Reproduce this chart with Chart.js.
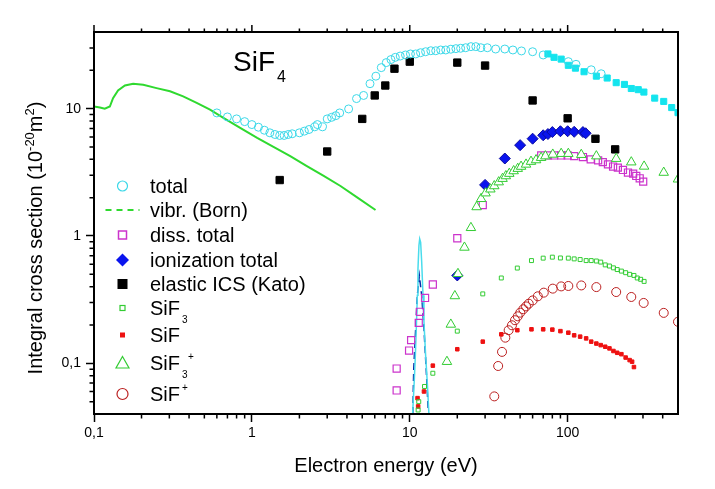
<!DOCTYPE html>
<html>
<head>
<meta charset="utf-8">
<script src="https://cdn.jsdelivr.net/npm/chart.js@4/dist/chart.umd.min.js"></script>
<style>
html,body{margin:0;padding:0;background:#fff;}
#wrap{width:715px;height:489px;position:relative;}
</style>
</head>
<body>
<div id="wrap"><canvas id="c" width="715" height="489"></canvas></div>
<script>
// ---------- tick labels ----------
const xTickValues = [0.1, 1, 10, 100];
const xTickLabels = ['0,1', '1', '10', '100'];
const yTickValues = [0.1, 1, 10];
const yTickLabels = ['0,1', '1', '10'];

// ---------- data (energy in eV, cross section in 1e-20 m^2) ----------
const totalE = [0.6,0.7,0.8,0.9,1.0,1.1,1.2,1.3,1.4,1.5,1.6,1.7,1.8,2.0,2.15,2.3,2.5,2.6,2.8,3.0,3.2,3.4,3.6,4.1,4.6,5.1,5.6,6.1,6.6,7.1,7.6,8.1,8.7,9.4,10.1,10.9,11.7,12.6,13.6,14.6,15.7,16.9,18.2,19.6,21,22.6,24.4,26.2,28.2,31,35,40,45,51,60,70,101,113,141,163];
const totalQ = [9.26,8.61,8.31,7.91,7.50,7.15,6.77,6.46,6.27,6.16,6.16,6.27,6.35,6.46,6.66,6.86,7.20,7.50,7.20,8.31,8.55,8.81,9.26,9.95,12.0,12.7,15.7,18.0,21.0,23.0,24.3,25.3,25.9,26.4,26.9,26.9,27.5,28.0,28.5,28.5,28.9,28.9,29.3,29.6,29.8,30.1,30.7,30.7,30.1,30.1,29.4,29.4,28.9,28.4,28.0,26.4,23.4,22.3,20.2,18.8];

const totalHighE = [75,82,91,101,112,127,152,178,203,229,253,280,304,356,406,456,500];
const totalHighQ = [26.9,25.3,24.5,21.9,20.8,19.5,18.0,17.4,16.0,15.5,14.4,14.1,13.5,12.1,11.4,10.2,9.3];

const vibrE = [0.1,0.109,0.117,0.126,0.132,0.142,0.157,0.177,0.205,0.249,0.303,0.367,0.447,0.543,0.660,0.843,1.08,1.37,1.75,2.23,2.85,3.64,4.64,6.07];
const vibrQ = [10.4,10.2,10.0,10.4,12.1,13.9,15.2,15.7,15.4,14.5,13.7,12.5,11.1,9.82,8.46,7.07,5.90,5.02,4.24,3.54,2.96,2.47,2.01,1.60];

const dissE = [8.26,8.26,9.9,10.2,11.4,11.6,12.5,14,20,29,68,75,82,91,100,110,125,140,156,167,180,194,208,224,241,260,272,286,301];
const dissQ = [0.0612,0.091,0.126,0.152,0.208,0.254,0.326,0.416,0.96,1.75,4.29,4.29,4.29,4.29,4.29,4.24,4.17,4.00,3.93,3.80,3.65,3.51,3.44,3.30,3.15,3.09,2.96,2.84,2.67];

const ionE = [20,30,40,50,60,70,75,80,90,100,110,125,130];
const ionQ = [0.49,2.52,4.06,5.17,5.81,6.18,6.32,6.55,6.65,6.65,6.58,6.55,6.41];

const elasticE = [1.5,3,5,6,7,8,10,20,30,60,100,150,200];
const elasticQ = [2.75,4.61,8.31,12.7,15.2,20.6,23.4,23.0,21.8,11.6,8.40,5.80,4.79];

const sif3E = [11.3,11.4,12.4,14,20,29,38,48,59,70,80,90,101,110,120,131,141,152,162,173,184,195,206,219,233,247,263,276,290,305];
const sif3Q = [0.043,0.050,0.0658,0.0836,0.179,0.351,0.468,0.560,0.641,0.670,0.682,0.672,0.670,0.661,0.653,0.641,0.641,0.636,0.624,0.593,0.581,0.562,0.545,0.530,0.515,0.500,0.490,0.468,0.457,0.440];

const sifE = [11.2,11.3,12.3,14,20,29,38,48,59,70,80,90,101,110,120,131,141,152,162,173,184,195,206,219,233,247,256,263];
const sifQ = [0.0533,0.0459,0.0601,0.0959,0.129,0.148,0.169,0.182,0.185,0.185,0.184,0.179,0.174,0.166,0.162,0.157,0.148,0.143,0.139,0.135,0.131,0.125,0.121,0.118,0.111,0.106,0.103,0.0935];

const sif3pE = [17.2,18.2,19.3,20.2,22.2,24.4,26.5,28.3,30.2,32.4,34.3,36.6,38.7,40.6,42.7,45.5,48.3,50.7,54.5,58.6,63.1,67.9,72.3,80.5,91,101,122,152,203,253,305,406,500];
const sif3pQ = [0.103,0.202,0.338,0.505,0.813,1.16,1.69,1.96,2.17,2.33,2.47,2.65,2.82,2.96,3.09,3.24,3.38,3.51,3.65,3.84,3.95,4.12,4.24,4.37,4.43,4.43,4.35,4.24,4.05,3.80,3.52,3.15,2.79];

const sifpE = [34.3,36.3,38.4,40.3,42.3,44.4,46.4,48.3,50.1,52.4,54.5,56.7,60.1,64.7,70.6,80.5,91,101,122,152,203,253,303,406,500];
const sifpQ = [0.055,0.0953,0.123,0.159,0.182,0.199,0.218,0.234,0.250,0.266,0.280,0.294,0.312,0.336,0.359,0.386,0.402,0.405,0.409,0.397,0.363,0.332,0.298,0.249,0.212];

const peakCyanE = [10.4,10.7,10.85,11.0,11.17,11.27,11.43,11.56,11.72,11.9,12.13,12.3,12.6,12.94,13.25];
const peakCyanQ = [0.038,0.0764,0.116,0.1875,0.342,0.552,0.84,0.948,0.893,0.624,0.342,0.212,0.116,0.0676,0.038];

const peakBlueE = [10.45,10.6,10.9,11.17,11.5,11.9,12.3,12.7,13.1];
const peakBlueQ = [0.04,0.0914,0.1875,0.342,0.487,0.342,0.1875,0.0914,0.042];

const legendLabels = [
  {main: 'total'},
  {main: 'vibr. (Born)'},
  {main: 'diss. total'},
  {main: 'ionization total'},
  {main: 'elastic ICS (Kato)'},
  {main: 'SiF', sub: '3'},
  {main: 'SiF'},
  {main: 'SiF', sub: '3', sup: '+'},
  {main: 'SiF', sup: '+'}
];
const yTitleParts = [
  {t: 'Integral cross section (10'}, {t: '-20', sup: true}, {t: 'm'}, {t: '2', sup: true}, {t: ')'}
];

// ---------- helpers ----------
const FONT = "'Liberation Sans', Arial, Helvetica, sans-serif";
Chart.defaults.font.family = FONT;
const pts = (xs, ys) => xs.map((v, i) => ({x: v, y: ys[i]}));

const C = {
  cyan: '#3cd8e8', cyanFill: '#14e4ee', cyanLine: '#4adcec', navy: '#0a2aa8',
  green: '#2fd92f', magenta: '#cc33cc', blue: '#0a14ee', black: '#000000',
  sifGreen: '#33cc33', red: '#ee1111', darkRed: '#bb2020'
};

function scatterDs(label, xs, ys, style, radius, border, fill, bw, order) {
  return {
    label, data: pts(xs, ys), pointStyle: style, pointRadius: radius,
    pointBorderColor: border, pointBackgroundColor: fill, pointBorderWidth: bw,
    borderColor: border, backgroundColor: fill, showLine: false, clip: 0, order: order || 0
  };
}
function lineDs(label, xs, ys, color, width, dash) {
  return {
    label, data: pts(xs, ys), showLine: true, pointRadius: 0, borderColor: color,
    borderWidth: width, borderDash: dash || [], fill: false, tension: 0, clip: 0
  };
}

const datasets = [
  scatterDs('total', totalE, totalQ, 'circle', 4, C.cyan, 'rgba(0,0,0,0)', 1),
  scatterDs('total (high E)', totalHighE, totalHighQ, 'rect', 4.3, C.cyanFill, C.cyanFill, 1),
  lineDs('vibr. (Born)', vibrE, vibrQ, C.green, 2),
  scatterDs('diss. total', dissE, dissQ, 'rect', 5, C.magenta, 'rgba(0,0,0,0)', 1.2),
  scatterDs('ionization total', ionE, ionQ, 'rectRot', 5.5, '#0a0aa0', C.blue, 1, 10),
  scatterDs('elastic ICS (Kato)', elasticE, elasticQ, 'rect', 5.2, C.black, C.black, 1),
  scatterDs('SiF3', sif3E, sif3Q, 'rect', 2.8, C.sifGreen, 'rgba(0,0,0,0)', 1),
  scatterDs('SiF', sifE, sifQ, 'rect', 2.5, C.red, C.red, 1),
  scatterDs('SiF3+', sif3pE, sif3pQ, 'triangle', 5.5, C.sifGreen, '#ffffff', 1, -1),
  scatterDs('SiF+', sifpE, sifpQ, 'circle', 4.5, C.darkRed, 'rgba(0,0,0,0)', 1),
  lineDs('peak (cyan)', peakCyanE, peakCyanQ, C.cyanLine, 1.5),
  lineDs('peak (blue)', peakBlueE, peakBlueQ, C.navy, 1.5, [7, 4])
];

// ---------- decoration plugin: frame, minor ticks, titles, legend ----------
function drawMarker(ctx, kind, x, y) {
  ctx.save();
  ctx.setLineDash([]);
  switch (kind) {
    case 0: ctx.strokeStyle = C.cyan; ctx.lineWidth = 1.2; ctx.beginPath(); ctx.arc(x, y, 5, 0, Math.PI*2); ctx.stroke(); break;
    case 1: ctx.strokeStyle = C.green; ctx.lineWidth = 2.2; ctx.setLineDash([6, 5]); ctx.beginPath(); ctx.moveTo(x-17, y); ctx.lineTo(x+17, y); ctx.stroke(); break;
    case 2: ctx.strokeStyle = C.magenta; ctx.lineWidth = 1.5; ctx.strokeRect(x-4, y-4, 8, 8); break;
    case 3: ctx.fillStyle = C.blue; ctx.beginPath(); ctx.moveTo(x-6.5, y); ctx.lineTo(x, y-6.5); ctx.lineTo(x+6.5, y); ctx.lineTo(x, y+6.5); ctx.closePath(); ctx.fill(); break;
    case 4: ctx.fillStyle = C.black; ctx.fillRect(x-5, y-5, 10, 10); break;
    case 5: ctx.strokeStyle = C.sifGreen; ctx.lineWidth = 1.2; ctx.strokeRect(x-2.5, y-2.5, 5, 5); break;
    case 6: ctx.fillStyle = C.red; ctx.fillRect(x-2.5, y-2.5, 5, 5); break;
    case 7: ctx.strokeStyle = C.sifGreen; ctx.lineWidth = 1.2; ctx.beginPath(); ctx.moveTo(x, y-6.5); ctx.lineTo(x+6.5, y+5); ctx.lineTo(x-6.5, y+5); ctx.closePath(); ctx.stroke(); break;
    case 8: ctx.strokeStyle = C.darkRed; ctx.lineWidth = 1.2; ctx.beginPath(); ctx.arc(x, y, 5.5, 0, Math.PI*2); ctx.stroke(); break;
  }
  ctx.restore();
}

const decoPlugin = {
  id: 'deco',
  afterDraw(chart) {
    const {ctx, chartArea: a} = chart;
    const xs = chart.scales.x, ys = chart.scales.y;
    ctx.save();
    // minor ticks + top major ticks
    ctx.strokeStyle = '#000';
    ctx.lineWidth = 1.5;
    ctx.beginPath();
    for (let d = 0.1; d < 1000; d *= 10) {
      for (let k = 2; k <= 9; k++) {
        const v = k * d;
        if (v >= xs.max * 0.999) continue;
        const p = xs.getPixelForValue(v);
        ctx.moveTo(p, a.bottom); ctx.lineTo(p, a.bottom + 4.5);
        ctx.moveTo(p, a.top); ctx.lineTo(p, a.top - 3.5);
      }
    }
    xTickValues.forEach(v => {
      const p = xs.getPixelForValue(v);
      ctx.moveTo(p, a.top); ctx.lineTo(p, a.top - 7);
    });
    for (let d = 0.01; d < 100; d *= 10) {
      for (let k = 2; k <= 9; k++) {
        const v = k * d;
        if (v <= ys.min * 1.001 || v >= ys.max * 0.999) continue;
        const p = ys.getPixelForValue(v);
        ctx.moveTo(a.left, p); ctx.lineTo(a.left - 4.5, p);
      }
    }
    ctx.stroke();
    // frame
    ctx.lineWidth = 2;
    ctx.strokeRect(a.left, a.top, a.right - a.left, a.bottom - a.top);

    ctx.fillStyle = '#000';
    ctx.textBaseline = 'alphabetic';
    ctx.textAlign = 'left';

    // y-axis title with superscripts (rotated)
    ctx.save();
    ctx.translate(42, 238);
    ctx.rotate(-Math.PI / 2);
    const big = '20px ' + FONT, small = '13px ' + FONT;
    let total = 0;
    yTitleParts.forEach(p => { ctx.font = p.sup ? small : big; total += ctx.measureText(p.t).width; });
    let cx = -total / 2;
    yTitleParts.forEach(p => {
      ctx.font = p.sup ? small : big;
      ctx.fillText(p.t, cx, p.sup ? -8 : 0);
      cx += ctx.measureText(p.t).width;
    });
    ctx.restore();

    // title SiF4
    ctx.font = '28px ' + FONT;
    ctx.fillText('SiF', 233, 70.5);
    const tw = ctx.measureText('SiF').width;
    ctx.font = '16px ' + FONT;
    ctx.fillText('4', 233 + tw + 2, 82);

    // legend
    const rowY = [186, 210, 235, 260, 284, 308, 335, 363, 394];
    const mx = 122.5, tx = 150;
    legendLabels.forEach((lab, i) => {
      const y = rowY[i];
      drawMarker(ctx, i, mx, y);
      ctx.fillStyle = '#000';
      ctx.font = '20px ' + FONT;
      ctx.fillText(lab.main, tx, y + 7);
      let lx = tx + ctx.measureText(lab.main).width + 2;
      ctx.font = '10px ' + FONT;
      if (lab.sub) {
        ctx.fillText(lab.sub, lx, y + 14.5);
        lx += ctx.measureText(lab.sub).width + 0.5;
      }
      if (lab.sup) {
        ctx.fillText(lab.sup, lx, y - 3);
      }
    });
    ctx.restore();
  }
};

new Chart(document.getElementById('c'), {
  type: 'scatter',
  data: {datasets},
  options: {
    responsive: false,
    animation: false,
    devicePixelRatio: 1,
    layout: {padding: {top: 32, right: 37, left: 0, bottom: 0}},
    plugins: {legend: {display: false}, tooltip: {enabled: false}},
    scales: {
      x: {
        type: 'logarithmic', min: 0.1, max: 500, position: 'bottom',
        afterBuildTicks: s => { s.ticks = xTickValues.map(v => ({value: v, major: true})); },
        afterFit: s => { s.height = 75; },
        grid: {drawOnChartArea: false, drawTicks: true, tickLength: 8, tickColor: '#000', tickWidth: 1.5},
        border: {display: true, color: '#000', width: 2},
        ticks: {
          color: '#000', font: {size: 14}, padding: 3, autoSkip: false, maxRotation: 0, minRotation: 0,
          callback: v => xTickLabels[xTickValues.indexOf(v)] ?? ''
        },
        title: {display: true, text: 'Electron energy (eV)', color: '#000', font: {size: 20}, padding: {top: 0, bottom: 11}}
      },
      y: {
        type: 'logarithmic', min: 0.04, max: 40, position: 'left',
        afterBuildTicks: s => { s.ticks = yTickValues.map(v => ({value: v, major: true})); },
        afterFit: s => { s.width = 94; },
        grid: {drawOnChartArea: false, drawTicks: true, tickLength: 8, tickColor: '#000', tickWidth: 1.5},
        border: {display: true, color: '#000', width: 2},
        ticks: {
          color: '#000', font: {size: 14}, padding: 5, autoSkip: false,
          callback: v => yTickLabels[yTickValues.indexOf(v)] ?? ''
        },
        title: {display: false, text: 'Integral cross section (10-20 m2)'}
      }
    }
  },
  plugins: [decoPlugin]
});
</script>
</body>
</html>
